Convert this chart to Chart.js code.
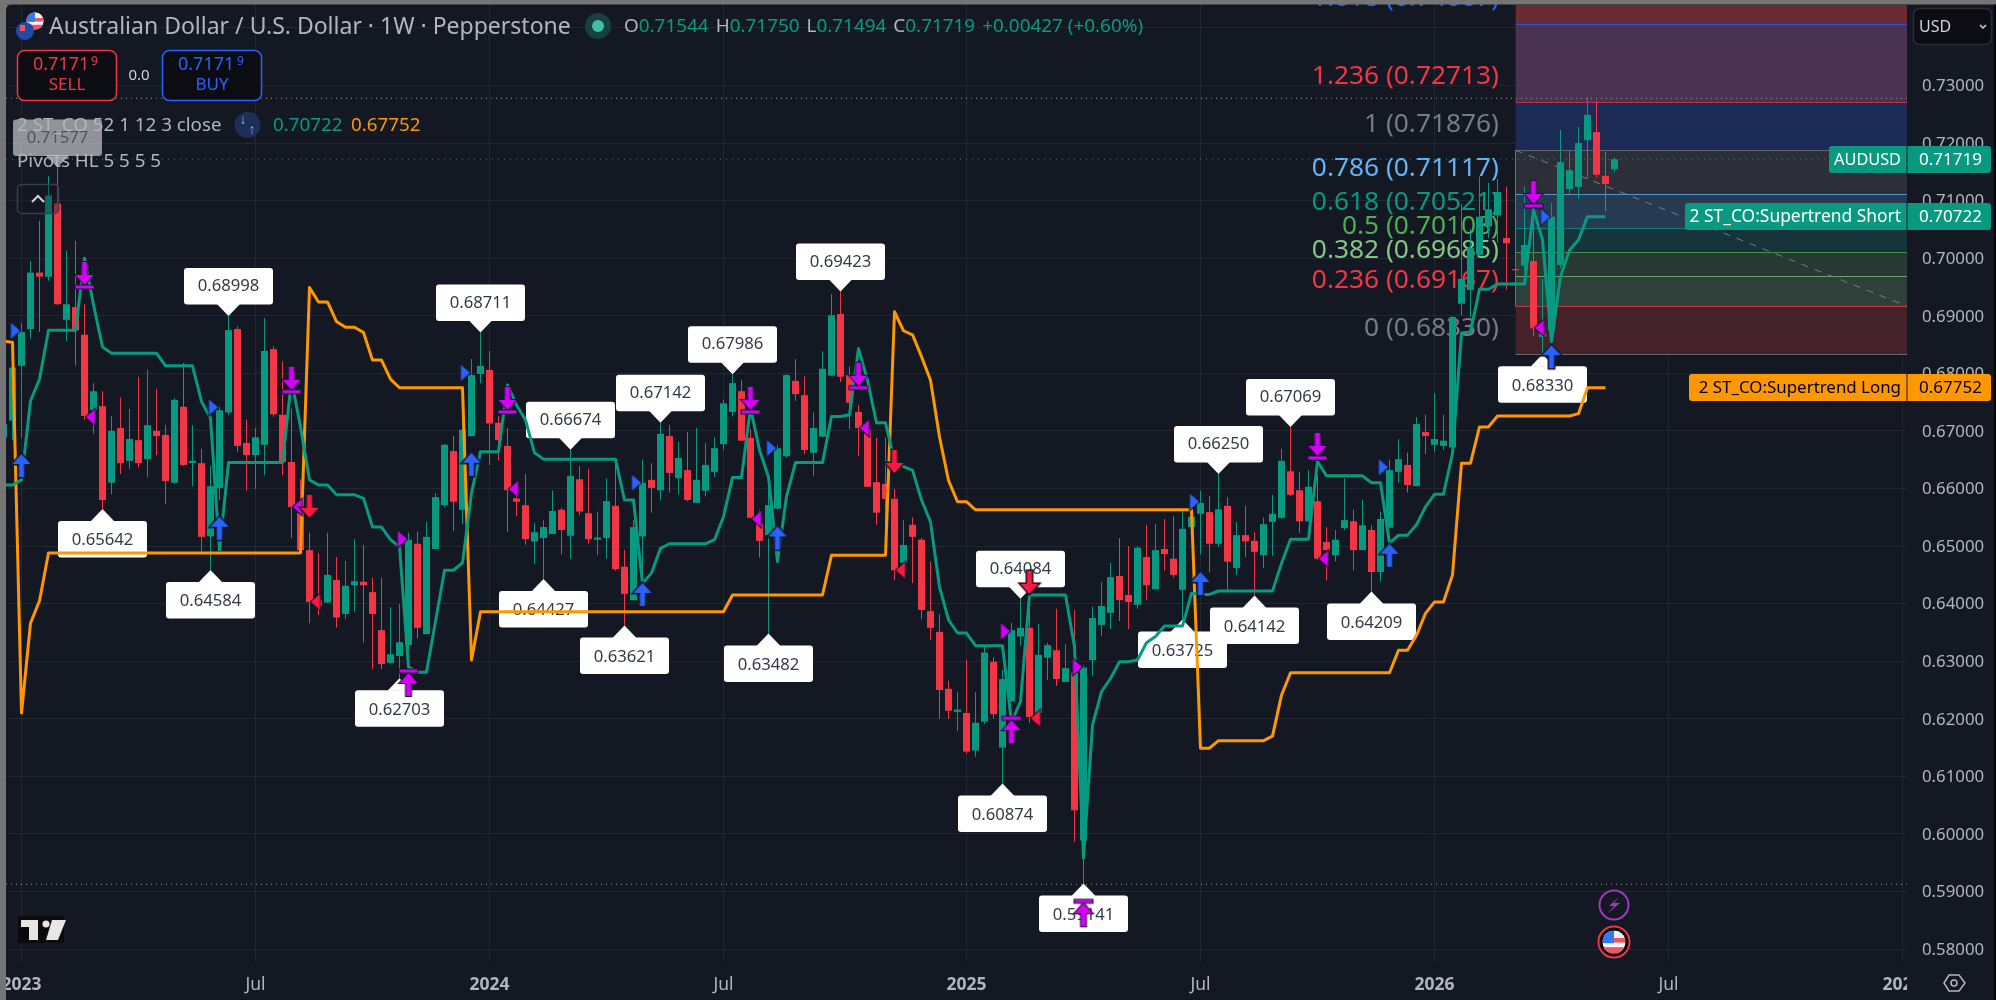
<!DOCTYPE html>
<html>
<head>
<meta charset="utf-8">
<title>AUDUSD 1W</title>
<script src="https://cdn.jsdelivr.net/npm/chart.js@4"></script>
<style>
  html, body { margin: 0; padding: 0; background: #141823; overflow: hidden; }
  canvas { display: block; }
</style>
</head>
<body>
<canvas id="chart" width="1996" height="1000"></canvas>
<script>
// ----- Weekly candles, first bar is two weeks before the 2023 tick -----
const firstBar = -2;

const opens = [
  .6688,.6718,.6813,.6877,.6975,.6968,.7095,.6893,.6915,.6867,
  .6736,.6743,.6610,.6705,.6648,.6684,.6651,.6700,.6693,.6610,
  .6742,.6644,.6644,.6517,.6601,.6732,.6877,.6679,.6658,.6676,
  .6842,.6728,.6646,.6557,.6493,.6406,.6402,.6441,.6382,.6432,
  .6438,.6420,.6354,.6297,.6309,.6328,.6504,.6347,.6495,.6571,
  .6665,.6563,.6691,.6799,.6806,.6714,.6674,.6583,.6571,.6508,
  .6514,.6521,.6563,.6518,.6616,.6557,.6511,.6514,.6570,.6464,
  .6406,.6517,.6615,.6597,.6691,.6618,.6632,.6575,.6596,.6629,
  .6677,.6733,.6769,.6688,.6540,.6519,.6565,.6656,.6787,.6762,
  .6662,.6690,.6796,.6903,.6797,.6733,.6703,.6611,.6608,.6582,
  .6471,.6537,.6511,.6387,.6351,.6252,.6212,.6210,.6145,.6195,
  .6299,.6150,.6230,.6343,.6358,.6210,.6306,.6319,.6264,.6280,
  .5989,.6302,.6363,.6384,.6448,.6415,.6398,.6481,.6425,.6495,
  .6478,.6424,.6533,.6556,.6559,.6504,.6570,.6462,.6519,.6509,
  .6484,.6542,.6549,.6630,.6597,.6543,.6578,.6507,.6484,.6531,
  .6543,.6493,.6528,.6455,.6532,.6629,.6641,.6604,.6698,.6676,
  .6674,.6671,.6921,.6945,.7006,.7055,.7074,.7035,.6981,.6987,
  .6995,.6863,.6875,.6988,.7120,.7124,.7205,.7219,.7143,.71544
];
const closes = [
  .6712,.6810,.6872,.6975,.6968,.7109,.6920,.6920,.6875,.6726,
  .6769,.6580,.6700,.6644,.6686,.6644,.6710,.6691,.6613,.6754,
  .6641,.6648,.6516,.6604,.6736,.6875,.6674,.6658,.6689,.6839,
  .6729,.6646,.6568,.6493,.6403,.6396,.6450,.6376,.6431,.6439,
  .6432,.6382,.6295,.6312,.6333,.6511,.6358,.6516,.6585,.6676,
  .6577,.6702,.6797,.6813,.6713,.6684,.6597,.6577,.6512,.6524,
  .6533,.6561,.6528,.6622,.6560,.6512,.6515,.6578,.6460,.6417,
  .6533,.6610,.6601,.6695,.6627,.6653,.6580,.6615,.6641,.6670,
  .6748,.6783,.6683,.6549,.6509,.6571,.6670,.6797,.6764,.6667,
  .6705,.6808,.6901,.6794,.6749,.6705,.6603,.6558,.6582,.6458,
  .6502,.6516,.6389,.6358,.6250,.6214,.6216,.6143,.6193,.6315,
  .6208,.6269,.6354,.6358,.6203,.6311,.6328,.6269,.6288,.6041,
  .6289,.6375,.6396,.6446,.6406,.6403,.6497,.6432,.6493,.6486,
  .6450,.6530,.6551,.6575,.6504,.6564,.6473,.6519,.6508,.6490,
  .6538,.6556,.6648,.6589,.6543,.6603,.6478,.6493,.6511,.6545,
  .6493,.6536,.6455,.6547,.6632,.6651,.6606,.6712,.6691,.6686,
  .6683,.6898,.6964,.7018,.7072,.7085,.7115,.7026,.6979,.7023,
  .6878,.6870,.7072,.7167,.7153,.7200,.7249,.7145,.7129,.71719
];
const highs = [
  .6719,.6820,.6887,.6995,.7065,.7143,.71577,.7013,.7030,.6920,
  .6783,.6769,.6726,.6758,.6738,.6794,.6806,.6773,.6710,.6757,
  .6818,.6710,.6669,.6639,.6742,.68998,.6882,.6720,.6705,.6896,
  .6847,.6821,.6739,.6616,.6523,.6488,.6523,.6481,.6474,.6512,
  .6502,.6445,.6445,.6394,.6399,.6523,.6525,.6542,.6592,.6677,
  .6691,.6729,.6825,.68711,.6839,.6726,.6705,.6606,.6625,.6540,
  .6545,.6596,.6566,.66674,.6639,.6634,.6560,.6618,.6650,.6493,
  .6545,.6650,.6644,.67142,.6710,.6681,.6698,.6705,.6679,.6689,
  .6754,.67986,.6788,.6703,.6563,.6615,.6675,.6799,.6825,.6795,
  .6732,.6839,.6938,.69423,.6812,.6745,.6703,.6688,.6688,.6599,
  .6545,.6550,.6514,.6473,.6382,.6266,.6246,.6302,.6246,.6328,
  .6307,.6285,.6367,.64084,.6392,.6365,.6332,.6391,.6330,.6389,
  .6293,.6395,.6438,.6471,.6514,.6500,.6500,.6537,.6538,.6547,
  .6552,.6564,.6563,.6596,.6587,.6625,.6585,.6542,.6570,.6524,
  .6549,.6589,.6669,.67069,.6629,.6632,.6623,.6533,.6528,.6618,
  .6563,.6580,.6536,.6560,.6650,.6686,.6662,.6724,.6728,.6766,
  .6728,.6899,.7094,.7051,.7142,.7131,.7138,.7124,.6993,.7124,
  .7096,.6964,.7096,.7223,.7187,.7228,.7278,.7273,.7185,.7175
];
const lows = [
  .6676,.6684,.6688,.6860,.6872,.6961,.6919,.6856,.6813,.6719,
  .6695,.65642,.6590,.6625,.6634,.6637,.6620,.6658,.6573,.6608,
  .6639,.6604,.6490,.64584,.6580,.6728,.6664,.6596,.6599,.6623,
  .6724,.6623,.6514,.6490,.6366,.6380,.6401,.6358,.6373,.6386,
  .6332,.6286,.6286,.6295,.62703,.6320,.6339,.6347,.6495,.6567,
  .6526,.6538,.6691,.6783,.6641,.6648,.6525,.6552,.6502,.6469,
  .64427,.6521,.6486,.6478,.6554,.6504,.6484,.6479,.6457,.63621,
  .6406,.6438,.6558,.6579,.6593,.6590,.6578,.6575,.6586,.6620,
  .6667,.6725,.6683,.6549,.6480,.63482,.6563,.6653,.6752,.6660,
  .6622,.6690,.6796,.6785,.6703,.6656,.6603,.6537,.6516,.6441,
  .6453,.6436,.6373,.6337,.6200,.6200,.6179,.6139,.6134,.6191,
  .6200,.60874,.6230,.6327,.6193,.6210,.6267,.6257,.6264,.5986,
  .59141,.6275,.6344,.6356,.6370,.6356,.6391,.6406,.6425,.6457,
  .6445,.63725,.6523,.6486,.6454,.6499,.6420,.6450,.6481,.64142,
  .6462,.6483,.6547,.6587,.6523,.6543,.6476,.6440,.6473,.6528,
  .6458,.6493,.64209,.6438,.6532,.6610,.6593,.6604,.6660,.6664,
  .6667,.6671,.6901,.6898,.7006,.7035,.7027,.6945,.6967,.6979,
  .6865,.6833,.6875,.6983,.7112,.7103,.7139,.7140,.7081,.71494
];

// ----- Supertrend lines, same start bar as the candles -----
const supertrendShort = [
  .6606,.6606,
  .6615,.6752,.6790,.6875,.6875,.6875,.6875,.7000,.6919,.6846,
  .6835,.6835,.6835,.6835,.6835,.6835,.6813,.6813,.6813,.6813,
  .6751,.6722,.6493,.6645,.6645,.6645,.6645,.6645,.6645,.6645,
  .6788,.6707,.6615,.6606,.6606,.6589,.6589,.6589,.6583,.6533,
  .6533,.6511,.6499,.6290,.6281,.6281,.6369,.6458,.6458,.6471,
  .6592,.6664,.6664,.6664,.6780,.6745,.6719,.6662,.6651,.6651,
  .6651,.6651,.6651,.6651,.6651,.6651,.6651,.6580,.6580,.6435,
  .6453,.6496,.6504,.6504,.6504,.6504,.6504,.6511,.6551,.6619,
  .6619,.6740,.6667,.6620,.6473,.6586,.6645,.6645,.6645,.6645,
  .6725,.6725,.6728,.6843,.6788,.6714,.6714,.6647,.6638,.6632,
  .6580,.6542,.6429,.6372,.6349,.6349,.6327,.6327,.6327,.6327,
  .6194,.6230,.6415,.6415,.6415,.6415,.6415,.6325,.5958,.6189,
  .6247,.6270,.6299,.6299,.6302,.6332,.6343,.6361,.6361,.6361,
  .6418,.6416,.6416,.6422,.6422,.6422,.6422,.6422,.6422,.6422,
  .6470,.6512,.6512,.6512,.6647,.6622,.6622,.6622,.6622,.6622,
  .6610,.6610,.6505,.6519,.6519,.6537,.6568,.6590,.6590,.6661,
  .6870,.6872,.6946,.6946,.6955,.6955,.6955,.6955,.7084,.7032,
  .6855,.6968,.7014,.7032,.70722,.70722,.70722
];
const supertrendLong = [
  .6856,.6854,
  .6210,.6366,.6405,.6488,.6488,.6488,.6488,.6488,.6488,.6488,
  .6488,.6488,.6488,.6488,.6488,.6488,.6488,.6488,.6488,.6488,
  .6488,.6488,.6488,.6488,.6488,.6488,.6488,.6488,.6488,.6488,
  .6488,.6488,.6949,.6924,.6924,.6890,.6880,.6880,.6871,.6823,
  .6823,.6790,.6775,.6775,.6775,.6775,.6775,.6775,.6775,.6775,
  .6302,.6386,.6386,.6386,.6386,.6386,.6386,.6386,.6386,.6386,
  .6386,.6386,.6386,.6386,.6386,.6386,.6386,.6386,.6386,.6386,
  .6386,.6386,.6386,.6386,.6386,.6386,.6386,.6386,.6386,.6415,
  .6415,.6415,.6415,.6415,.6415,.6415,.6415,.6415,.6415,.6415,
  .6484,.6484,.6484,.6484,.6484,.6484,.6484,.6907,.6874,.6867,
  .6829,.6788,.6690,.6614,.6577,.6577,.6563,.6563,.6563,.6563,
  .6563,.6563,.6563,.6563,.6563,.6563,.6563,.6563,.6563,.6563,
  .6563,.6563,.6563,.6563,.6563,.6563,.6563,.6563,.6563,.6563,
  .6563,.6149,.6149,.6162,.6162,.6162,.6162,.6162,.6162,.6170,
  .6241,.6280,.6280,.6280,.6280,.6280,.6280,.6280,.6280,.6280,
  .6280,.6280,.6280,.6319,.6319,.6345,.6383,.6403,.6403,.6450,
  .6644,.6644,.6707,.6707,.6726,.6726,.6726,.6726,.6726,.6726,
  .6726,.6726,.6726,.6730,.6775,.67752,.67752
];

// ----- Pivot labels -----
const pivotHighBars = [23, 51, 61, 71, 79, 91, 111, 133, 141];
const pivotHighPrices = [.68998, .68711, .66674, .67142, .67986, .69423, .64084, .66250, .67069];
const pivotLowBars = [9, 21, 42, 58, 67, 83, 109, 118, 129, 137, 150, 169];
const pivotLowPrices = [.65642, .64584, .62703, .64427, .63621, .63482, .60874, .59141, .63725, .64142, .64209, .68330];
const fadedPivotBar = 4;
const fadedPivotPrice = .71577;

// ----- Signal markers -----
const buyArrowBars = [0, 22, 50, 69, 84, 131, 152, 170];
const buyArrowPrices = [.6660, .6551, .6662, .6436, .6534, .6455, .6504, .6849];
const sellArrowBars = [32, 97, 112];
const sellArrowPrices = [.6549, .6627, .6417];
const topSignalBars = [7, 30, 54, 81, 93, 144, 168];
const topSignalPrices = [.6950, .6768, .6733, .6733, .6775, .6653, .7091];
const bottomSignalBars = [43, 110, 118];
const bottomSignalPrices = [.6283, .6201, .5883];
const blueFlagBars = [0, 22, 50, 69, 84, 131, 152, 170];
const blueFlagPrices = [.6874, .6741, .6801, .6610, .6670, .6577, .6637, .7072];
const purpleBackBars = [7, 30, 54, 81, 93, 144, 168];
const purpleBackPrices = [.6724, .6568, .6599, .6547, .6705, .6478, .6879];
const redBackBars = [32, 97, 112];
const redBackPrices = [.6403, .6458, .6201];
const purpleFlagBars = [43, 110, 118];
const purpleFlagPrices = [.6512, .6352, .6290];

// ----- Fibonacci levels -----
const fibRatios = ['1.618', '1.236', '1', '0.786', '0.618', '0.5', '0.382', '0.236', '0'];
const fibPrices = [.74067, .72713, .71876, .71117, .70521, .70108, .69685, .69167, .68330];
const fibColors = ['#2962ff', '#f23645', '#787b86', '#64b5f6', '#089981', '#4caf50', '#81c784', '#f23645', '#787b86'];
const fibFills = ['#4a3350', '#1b2b55', '#2d2f38', '#263a52', '#15333a', '#283a33', '#2f3f3a', '#452229'];
const fibStartBar = 166;

// ----- Axes -----
const priceTicks = [.58, .59, .60, .61, .62, .63, .64, .65, .66, .67, .68, .69, .70, .71, .72, .73, .74];
const timeTickBars = [0, 26, 52, 78, 105, 131, 157, 183, 209];
const timeTickLabels = ['2023', 'Jul', '2024', 'Jul', '2025', 'Jul', '2026', 'Jul', '2027'];

const highLine = .72778;
const lowLine = .59125;
const lastPrice = .71719;
const priceMin = .57793;
const priceMax = .74398;
const barMin = -1.7222;
const barMax = 209.5;

const UP = '#089981';
const DOWN = '#f23645';
const BG = '#141823';
const FONT = '"Noto Sans", sans-serif';

// ----- Marker images -----
function markerImage(draw) {
  const c = document.createElement('canvas');
  c.width = c.height = 72;
  const g = c.getContext('2d');
  g.translate(36, 36);
  draw(g);
  return c;
}

function poly(g, pts, fill, outline) {
  g.beginPath();
  pts.forEach((p, i) => (i ? g.lineTo(p[0], p[1]) : g.moveTo(p[0], p[1])));
  g.closePath();
  g.lineJoin = 'miter';
  g.lineWidth = outline;
  g.strokeStyle = BG;
  g.stroke();
  g.fillStyle = fill;
  g.fill();
}

// tip of the arrow sits at y0, dir -1 means it points up
function arrowPts(y0, dir) {
  const s = -dir;
  return [[0, y0], [9, y0 + s * 10], [2.5, y0 + s * 10], [2.5, y0 + s * 23],
          [-2.5, y0 + s * 23], [-2.5, y0 + s * 10], [-9, y0 + s * 10]];
}

const imgBuy = markerImage(g => poly(g, arrowPts(0, -1), '#2962ff', 3));
const imgSell = markerImage(g => poly(g, arrowPts(0, 1), '#ff1744', 3));
const imgTop = markerImage(g => {
  poly(g, arrowPts(-2, 1), '#d500f9', 2);
  poly(g, [[-9, -1.5], [9, -1.5], [9, 1.5], [-9, 1.5]], '#d500f9', 2);
});
const imgBottom = markerImage(g => {
  poly(g, arrowPts(2, -1), '#d500f9', 2);
  poly(g, [[-9, -1.5], [9, -1.5], [9, 1.5], [-9, 1.5]], '#d500f9', 2);
});
const flagRight = color => markerImage(g => poly(g, [[-10.5, -8], [-1.5, 0], [-10.5, 8]], color, 2));
const flagLeft = color => markerImage(g => poly(g, [[10.5, -8], [1.5, 0], [10.5, 8]], color, 2));

// ----- Dataset helpers -----
function seriesPoints(values) {
  return values.map((y, i) => ({ x: firstBar + i, y }));
}

function flatLine(y, color, dash, order, x0 = barMin, width = 1) {
  return {
    type: 'line',
    data: [{ x: x0, y }, { x: barMax, y }],
    borderColor: color,
    borderWidth: width,
    borderDash: dash,
    pointRadius: 0,
    order
  };
}

function markers(bars, prices, image) {
  return {
    type: 'line',
    showLine: false,
    data: bars.map((x, i) => ({ x, y: prices[i] })),
    pointStyle: image,
    pointRadius: 6,
    order: 5
  };
}

function trendLine(values, color, order) {
  return {
    type: 'line',
    data: seriesPoints(values),
    borderColor: color,
    borderWidth: 3,
    borderJoinStyle: 'round',
    pointRadius: 0,
    tension: 0,
    order
  };
}

// fib bands, each level fills down to the next one
const fibSets = [];
fibSets.push({
  type: 'line',
  data: [{ x: fibStartBar, y: priceMax }, { x: barMax, y: priceMax }],
  borderWidth: 0,
  pointRadius: 0,
  fill: '+1',
  backgroundColor: '#6a2b32',
  order: 60
});
fibPrices.forEach((p, i) => {
  fibSets.push({
    type: 'line',
    data: [{ x: fibStartBar, y: p }, { x: barMax, y: p }],
    borderColor: fibColors[i],
    borderWidth: 1.5,
    pointRadius: 0,
    fill: i < fibFills.length ? '+1' : false,
    backgroundColor: fibFills[i],
    order: 60
  });
});

const wickSet = {
  type: 'bar',
  data: opens.map((o, i) => ({ x: firstBar + i, y: [lows[i], highs[i]] })),
  backgroundColor: opens.map((o, i) => (closes[i] >= o ? UP : DOWN)),
  grouped: false,
  barPercentage: 0.12,
  categoryPercentage: 1,
  maxBarThickness: 1,
  order: 40
};
const bodySet = {
  type: 'bar',
  data: opens.map((o, i) => ({ x: firstBar + i, y: [o, closes[i]] })),
  backgroundColor: opens.map((o, i) => (closes[i] >= o ? UP : DOWN)),
  grouped: false,
  barPercentage: 7 / 9,
  categoryPercentage: 1,
  minBarLength: 1,
  order: 30
};

// ----- Canvas text and shape helpers -----
// Noto Sans sits a little high on a middle baseline, hence the 1px
function text(ctx, str, x, y, color, font, align = 'left') {
  ctx.font = font;
  ctx.fillStyle = color;
  ctx.textAlign = align;
  ctx.textBaseline = 'middle';
  ctx.fillText(str, x, y + 1);
}

function roundBox(ctx, x, y, w, h, r, fill, stroke) {
  ctx.beginPath();
  ctx.roundRect(x, y, w, h, r);
  if (fill) { ctx.fillStyle = fill; ctx.fill(); }
  if (stroke) { ctx.strokeStyle = stroke; ctx.lineWidth = 1.5; ctx.stroke(); }
}

function pivotLabel(ctx, chart, bar, price, above, alpha = 1) {
  const px = chart.scales.x.getPixelForValue(bar);
  const py = chart.scales.y.getPixelForValue(price);
  const dir = above ? -1 : 1;
  ctx.save();
  ctx.globalAlpha = alpha;
  const boxColor = alpha < 1 ? '#c4c4c8' : '#ffffff';
  ctx.fillStyle = boxColor;
  ctx.beginPath();
  ctx.moveTo(px, py);
  ctx.lineTo(px + 12, py + dir * 12.5);
  ctx.lineTo(px - 12, py + dir * 12.5);
  ctx.closePath();
  ctx.fill();
  roundBox(ctx, px - 44.5, above ? py - 48 : py + 12, 89, 36.5, 3, boxColor);
  text(ctx, price.toFixed(5), px, py + dir * 30.5, '#363a45', '16.7px ' + FONT, 'center');
  ctx.restore();
}

function sideTag(ctx, name, value, y, left, fill, ink, nameSize) {
  roundBox(ctx, left, y, 1991 - left, 27, 3, fill);
  ctx.fillStyle = BG;
  ctx.fillRect(1906.5, y, 1, 27);
  text(ctx, name, 1901, y + 13, ink, nameSize + 'px ' + FONT, 'right');
  text(ctx, value, 1919, y + 13, ink, '17px ' + FONT);
}

function usFlag(ctx, cx, cy, r) {
  ctx.save();
  ctx.beginPath();
  ctx.arc(cx, cy, r, 0, Math.PI * 2);
  ctx.clip();
  ctx.fillStyle = '#f0f3fa';
  ctx.fillRect(cx - r, cy - r, r * 2, r * 2);
  ctx.fillStyle = '#f0555f';
  ctx.fillRect(cx - r, cy - r * 0.35, r * 2, r * 0.4);
  ctx.fillRect(cx - r, cy + r * 0.45, r * 2, r * 0.6);
  ctx.fillStyle = '#3179f5';
  ctx.fillRect(cx - r, cy - r, r, r * 1.1);
  ctx.restore();
}

// the scales keep their fixed sizes, no room reserved for tick label overhang
function noScalePadding(s) {
  s.paddingLeft = s.paddingRight = s.paddingTop = s.paddingBottom = 0;
}

const tvPlugin = {
  id: 'tvPlugin',
  beforeDraw(chart) {
    const ctx = chart.ctx;
    ctx.fillStyle = BG;
    ctx.fillRect(0, 0, chart.width, chart.height);
  },
  beforeDatasetsDraw(chart) {
    // fib captions sit under the candles
    const ctx = chart.ctx;
    const sy = chart.scales.y;
    fibPrices.forEach((p, i) => {
      text(ctx, fibRatios[i] + ' (' + p.toFixed(5) + ')', 1499, sy.getPixelForValue(p) - 26.5, fibColors[i], '26.3px ' + FONT, 'right');
    });
  },
  afterDatasetDraw(chart, args) {
    // pivots go above the candles and below the supertrend lines
    if (chart.data.datasets[args.index] !== bodySet) return;
    const ctx = chart.ctx;
    pivotHighBars.forEach((b, i) => pivotLabel(ctx, chart, b, pivotHighPrices[i], true));
    pivotLowBars.forEach((b, i) => pivotLabel(ctx, chart, b, pivotLowPrices[i], false));
  },
  afterDraw(chart) {
    const ctx = chart.ctx;

    // faded pivot under the legend
    pivotLabel(ctx, chart, fadedPivotBar, fadedPivotPrice, true, 0.72);

    // title row
    ctx.beginPath(); ctx.arc(35, 21, 8.5, 0, Math.PI * 2); ctx.fillStyle = '#f0f3fa'; ctx.fill();
    usFlag(ctx, 35, 21, 8.5);
    ctx.beginPath(); ctx.arc(25, 31, 9, 0, Math.PI * 2); ctx.fillStyle = '#1f4aa8'; ctx.fill();
    ctx.fillStyle = '#f0555f'; ctx.fillRect(20, 25, 5, 6);
    text(ctx, 'Australian Dollar / U.S. Dollar · 1W · Pepperstone', 49, 26, '#b2b5be', '23px ' + FONT);
    ctx.beginPath(); ctx.arc(598, 26, 13, 0, Math.PI * 2); ctx.fillStyle = '#17413f'; ctx.fill();
    ctx.beginPath(); ctx.arc(598, 26, 6, 0, Math.PI * 2); ctx.fillStyle = '#42bda8'; ctx.fill();

    let ox = 624;
    [['O', '0.71544'], ['H', '0.71750'], ['L', '0.71494'], ['C', '0.71719']].forEach(([k, v]) => {
      text(ctx, k, ox, 26, '#b2b5be', '18.9px ' + FONT);
      ox += ctx.measureText(k).width;
      text(ctx, v, ox, 26, UP, '18.9px ' + FONT);
      ox += ctx.measureText(v).width + 7;
    });
    text(ctx, '+0.00427 (+0.60%)', ox, 26, UP, '18.9px ' + FONT);

    // sell and buy buttons
    roundBox(ctx, 17.5, 50.5, 99, 50, 7, '#0b0d12', '#f23645');
    text(ctx, '0.7171', 33, 64, '#f23645', '18px ' + FONT);
    text(ctx, '9', 91, 61, '#f23645', '12px ' + FONT);
    text(ctx, 'SELL', 67, 84, '#f23645', '17px ' + FONT, 'center');
    text(ctx, '0.0', 139, 75, '#d1d4dc', '15px ' + FONT, 'center');
    roundBox(ctx, 162.5, 50.5, 99, 50, 7, '#0b0d12', '#2962ff');
    text(ctx, '0.7171', 178, 64, '#2962ff', '18px ' + FONT);
    text(ctx, '9', 237, 61, '#2962ff', '12px ' + FONT);
    text(ctx, 'BUY', 212, 84, '#2962ff', '17px ' + FONT, 'center');

    // indicator legend
    text(ctx, '2 ST_CO 52 1 12 3 close', 17, 125, '#b2b5be', '18.8px ' + FONT);
    ctx.beginPath(); ctx.arc(247.5, 125, 13, 0, Math.PI * 2); ctx.fillStyle = '#1e2f57'; ctx.fill();
    text(ctx, '↓', 243, 119, '#7ea8ff', 'bold 14px ' + FONT, 'center');
    text(ctx, '↑', 252, 129, '#7ea8ff', 'bold 14px ' + FONT, 'center');
    text(ctx, '0.70722', 273, 125, UP, '18.8px ' + FONT);
    text(ctx, '0.67752', 351, 125, '#ff9800', '18.8px ' + FONT);
    text(ctx, 'Pivots HL 5 5 5 5', 17, 161, '#b2b5be', '18.8px ' + FONT);
    roundBox(ctx, 17.5, 184.5, 41, 29, 4, 'rgba(20,24,35,.35)', '#3a3e49');
    ctx.beginPath();
    ctx.moveTo(32, 202); ctx.lineTo(38, 196); ctx.lineTo(44, 202);
    ctx.strokeStyle = '#d1d4dc'; ctx.lineWidth = 2; ctx.stroke();

    // price tags on the axis
    sideTag(ctx, 'AUDUSD', '0.71719', 146, 1829, UP, '#ffffff', 16.3);
    sideTag(ctx, '2 ST_CO:Supertrend Short', '0.70722', 203, 1685, UP, '#ffffff', 17.4);
    sideTag(ctx, '2 ST_CO:Supertrend Long', '0.67752', 374, 1689, '#ff9800', '#000000', 16.9);

    // currency button
    roundBox(ctx, 1913.5, 8.5, 78, 36, 6, '#0b0d12', '#2a2e39');
    text(ctx, 'USD', 1919, 26, '#d1d4dc', '16px ' + FONT);
    ctx.beginPath();
    ctx.moveTo(1980, 25); ctx.lineTo(1983, 28); ctx.lineTo(1986, 25);
    ctx.strokeStyle = '#d1d4dc'; ctx.lineWidth = 1.5; ctx.stroke();

    // session icons
    ctx.beginPath(); ctx.arc(1614, 905, 14.5, 0, Math.PI * 2);
    ctx.fillStyle = BG; ctx.fill();
    ctx.strokeStyle = '#9c3bb8'; ctx.lineWidth = 2; ctx.stroke();
    ctx.beginPath();
    ctx.moveTo(1619, 897); ctx.lineTo(1609, 906); ctx.lineTo(1614, 906); ctx.lineTo(1608, 913);
    ctx.lineTo(1620, 903); ctx.lineTo(1614, 903); ctx.closePath();
    ctx.fillStyle = '#9c3bb8'; ctx.fill();
    ctx.beginPath(); ctx.arc(1614, 942, 15.5, 0, Math.PI * 2);
    ctx.fillStyle = '#000'; ctx.fill();
    ctx.strokeStyle = '#f23645'; ctx.lineWidth = 2; ctx.stroke();
    usFlag(ctx, 1614, 942, 11.5);

    // TradingView logo
    ctx.fillStyle = '#0b0b0b';
    ctx.fillRect(18, 916, 46, 27);
    ctx.fillStyle = '#e6e6e6';
    ctx.fillRect(21, 920, 17, 7);
    ctx.fillRect(29, 920, 9, 20);
    ctx.beginPath(); ctx.arc(46, 924, 3.5, 0, Math.PI * 2); ctx.fill();
    ctx.beginPath();
    ctx.moveTo(52, 920); ctx.lineTo(66, 920); ctx.lineTo(58, 940); ctx.lineTo(46, 940); ctx.closePath();
    ctx.fill();

    // clip the last time label at the price axis, then the settings icon
    ctx.fillStyle = BG;
    ctx.fillRect(1907, 962, 89, 38);
    ctx.beginPath();
    ctx.moveTo(1944, 983); ctx.lineTo(1949, 975); ctx.lineTo(1959, 975);
    ctx.lineTo(1965, 983); ctx.lineTo(1959, 991); ctx.lineTo(1949, 991); ctx.closePath();
    ctx.moveTo(1957, 983); ctx.arc(1954, 983, 3, 0, Math.PI * 2);
    ctx.strokeStyle = '#b2b5be'; ctx.lineWidth = 1.5; ctx.stroke();

    // window frame with its rounded inner corner
    ctx.fillStyle = '#757575';
    ctx.fillRect(0, 0, 6, 1000);
    ctx.fillRect(0, 0, 1996, 4.5);
    ctx.beginPath();
    ctx.moveTo(6, 4.5); ctx.lineTo(12, 4.5); ctx.quadraticCurveTo(6, 4.5, 6, 10.5); ctx.closePath();
    ctx.fill();
    ctx.fillStyle = '#050505';
    ctx.fillRect(1994, 4.5, 2, 996);
  }
};

new Chart(document.getElementById('chart'), {
  data: {
    datasets: [
      ...fibSets,
      {
        type: 'line',
        data: [{ x: fibStartBar, y: fibPrices[2] }, { x: fibStartBar, y: fibPrices[7] }],
        borderColor: '#f23645',
        borderWidth: 1,
        pointRadius: 0,
        order: 55
      },
      {
        type: 'line',
        data: [{ x: fibStartBar, y: fibPrices[2] }, { x: barMax, y: fibPrices[7] }],
        borderColor: '#787b86',
        borderWidth: 1,
        borderDash: [7, 7],
        pointRadius: 0,
        order: 55
      },
      flatLine(highLine, '#9598a1', [1, 4], 50),
      flatLine(lowLine, '#9598a1', [1, 4], 50),
      flatLine(lastPrice, UP, [1, 5], 50),
      wickSet,
      bodySet,
      trendLine(supertrendLong, '#ff9800', 20),
      trendLine(supertrendShort, UP, 15),
      markers(buyArrowBars, buyArrowPrices, imgBuy),
      markers(sellArrowBars, sellArrowPrices, imgSell),
      markers(topSignalBars, topSignalPrices, imgTop),
      markers(bottomSignalBars, bottomSignalPrices, imgBottom),
      markers(blueFlagBars, blueFlagPrices, flagRight('#2962ff')),
      markers(purpleBackBars, purpleBackPrices, flagLeft('#d500f9')),
      markers(redBackBars, redBackPrices, flagLeft('#ff1744')),
      markers(purpleFlagBars, purpleFlagPrices, flagRight('#d500f9'))
    ]
  },
  options: {
    responsive: false,
    animation: false,
    events: [],
    layout: { autoPadding: false, padding: { left: 6, top: 5, right: 0, bottom: 0 } },
    plugins: { legend: { display: false }, tooltip: { enabled: false } },
    scales: {
      x: {
        type: 'linear',
        offset: false,
        min: barMin,
        max: barMax,
        afterBuildTicks: s => { s.ticks = timeTickBars.map(value => ({ value })); },
        afterFit: s => { s.height = 39; noScalePadding(s); },
        grid: { color: '#232732', lineWidth: 1, drawTicks: false, offset: false },
        border: { display: false },
        ticks: {
          autoSkip: false,
          maxRotation: 0,
          padding: 14,
          color: '#b2b5be',
          font: c => ({
            family: FONT,
            size: 17.5,
            weight: c.tick && timeTickLabels[timeTickBars.indexOf(c.tick.value)] === 'Jul' ? 'normal' : 'bold'
          }),
          callback: v => timeTickLabels[timeTickBars.indexOf(v)]
        }
      },
      y: {
        type: 'linear',
        position: 'right',
        min: priceMin,
        max: priceMax,
        afterBuildTicks: s => { s.ticks = priceTicks.map(value => ({ value })); },
        afterFit: s => { s.width = 89; noScalePadding(s); },
        grid: { color: '#232732', lineWidth: 1, drawTicks: false },
        border: { display: false },
        ticks: {
          padding: 15,
          labelOffset: 1,
          color: '#b2b5be',
          font: { family: FONT, size: 16.8 },
          callback: v => v.toFixed(5)
        }
      }
    }
  },
  plugins: [tvPlugin]
});
</script>
</body>
</html>
